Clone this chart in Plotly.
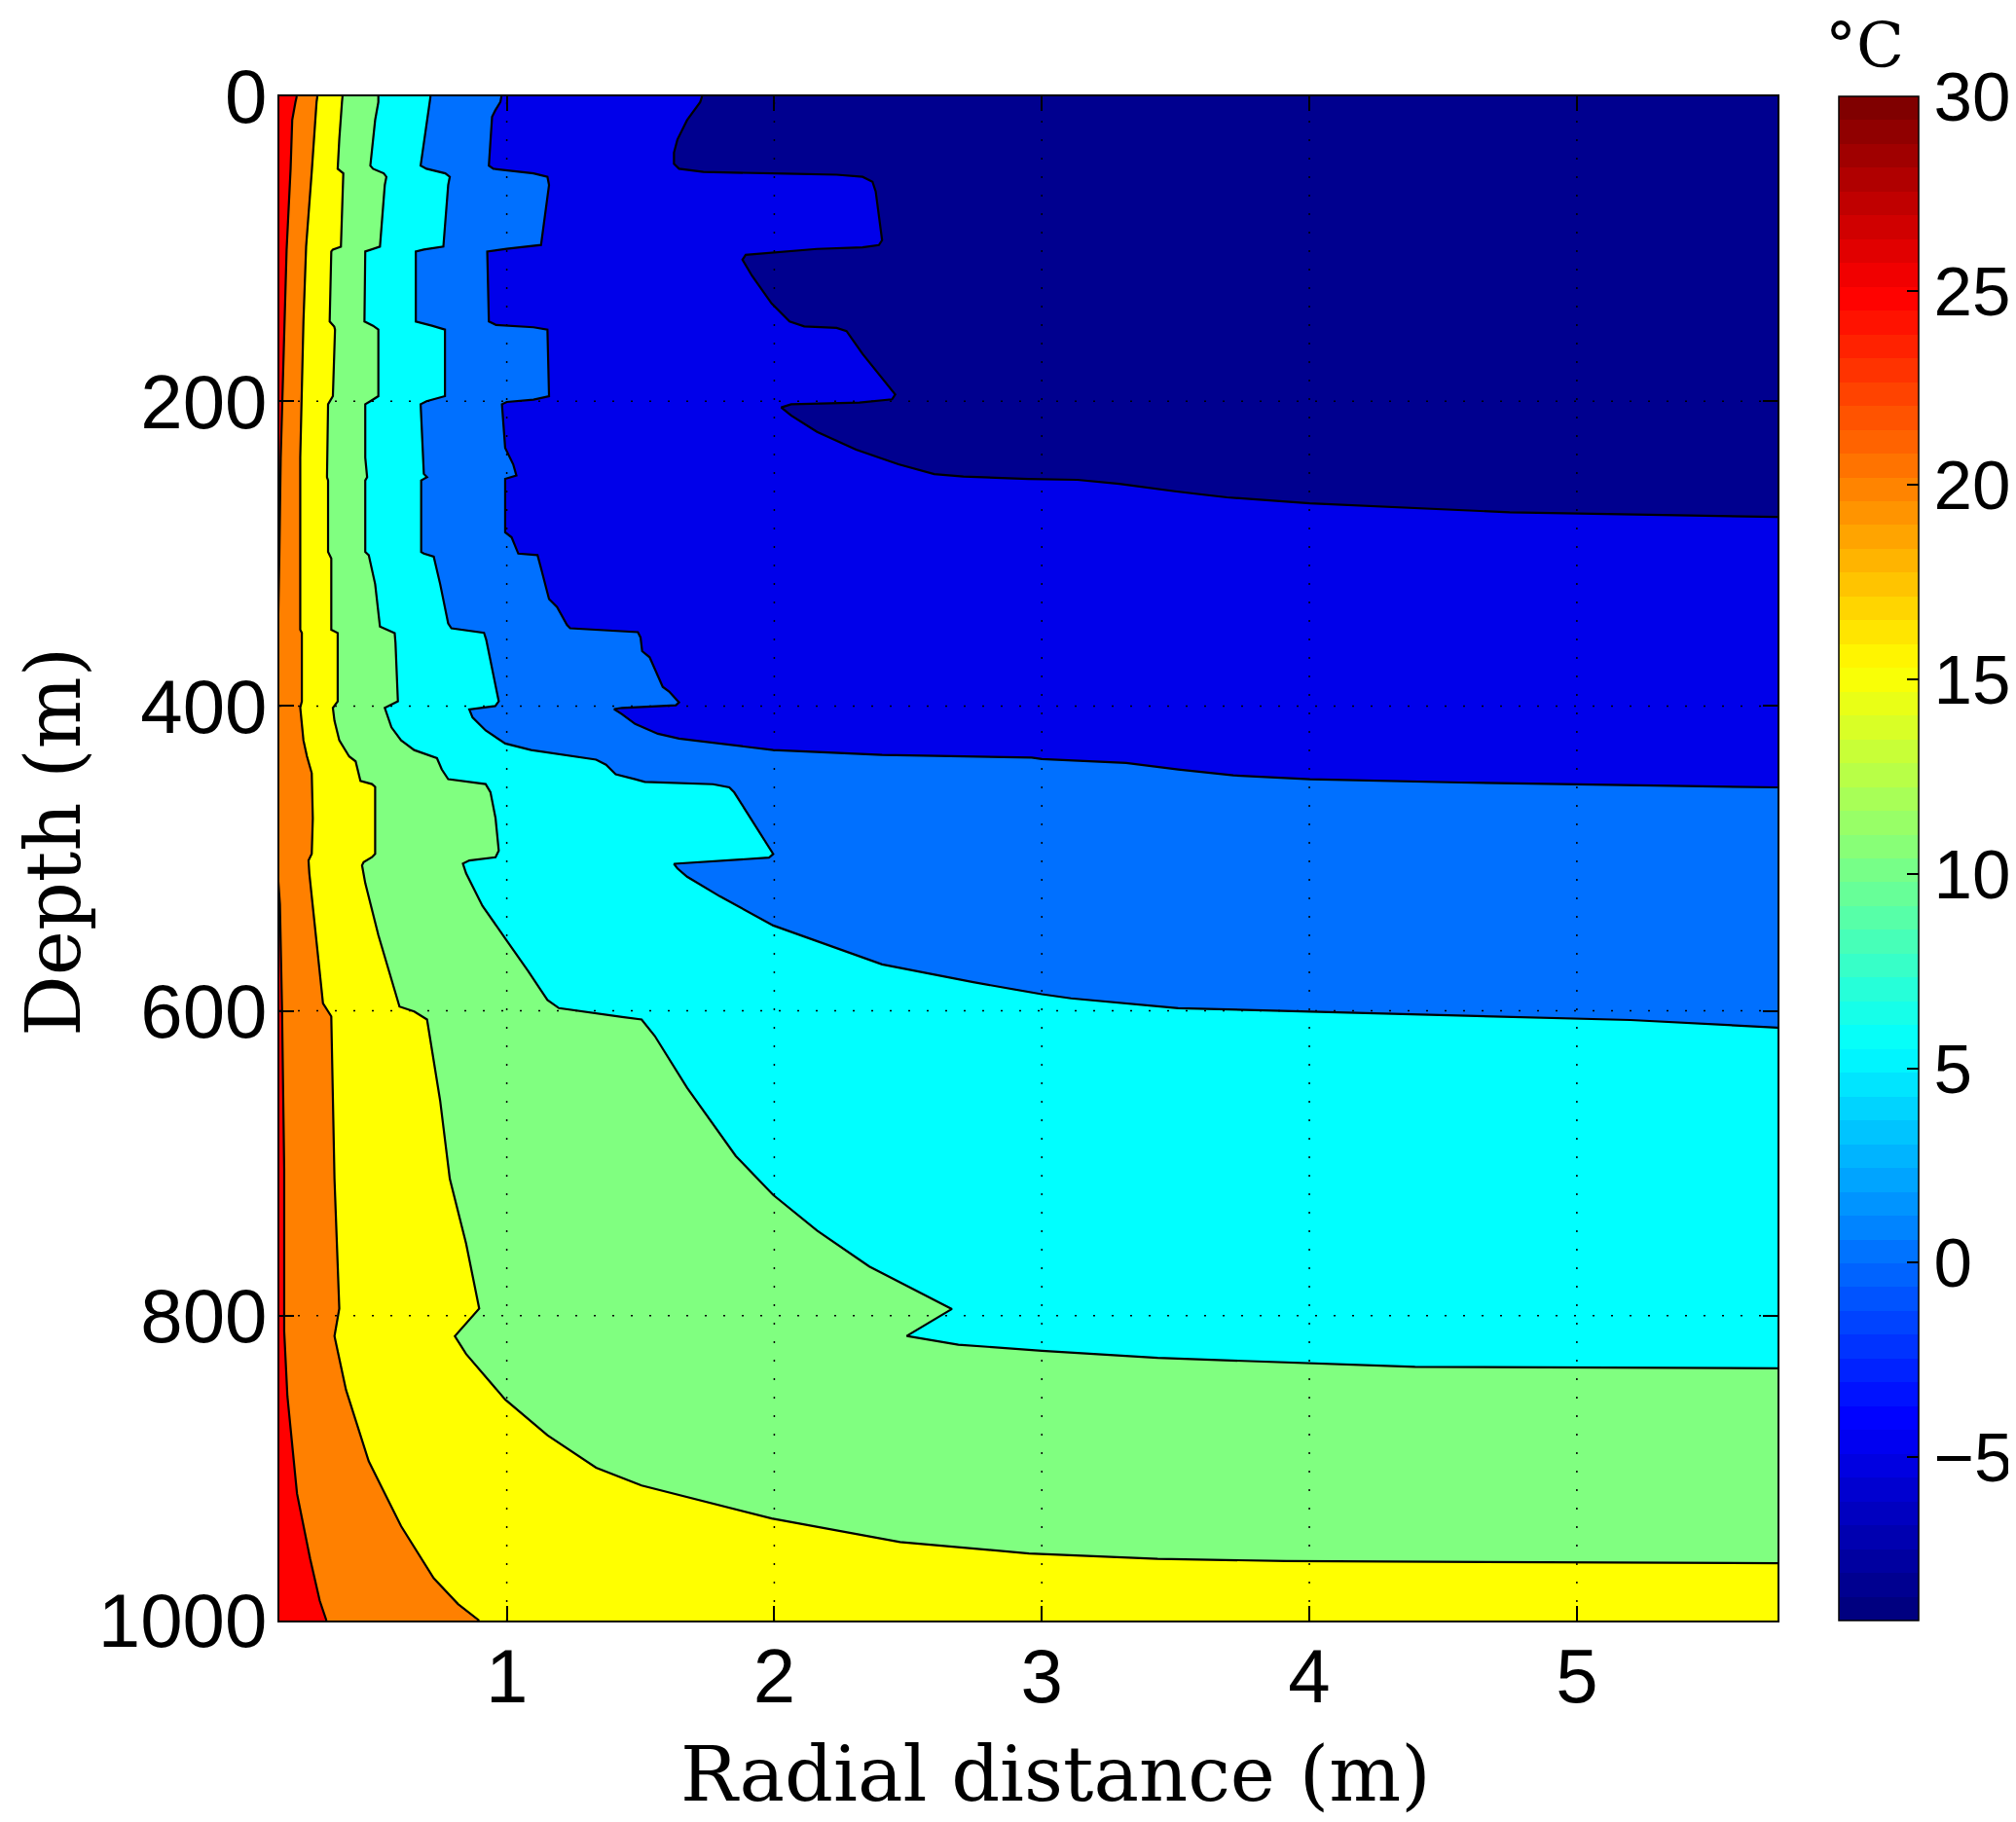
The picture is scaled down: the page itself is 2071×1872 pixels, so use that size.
import numpy as np
import plotly.graph_objects as go

# isotherm levels (deg C); each band is filled with the colour of its lower level
LEVELS = [-5, 0, 5, 10, 15, 20, 25]
BAND_COLOURS = ["#0000EA", "#0070FF", "#00FFFF", "#80FF80", "#FFFF00", "#FF8000", "#FF0000"]
COLDEST_COLOUR = "#00008F"

T_MIN, T_MAX = -9.2, 30.0
X_RANGE = [0.15, 5.75]
X_TICKS = [1, 2, 3, 4, 5]
Y_TICKS = [0, 200, 400, 600, 800, 1000]
CBAR_TICKS = [-5, 0, 5, 10, 15, 20, 25, 30]

# isotherms as (depth m, radial distance m), top to bottom
ISO_M5 = [(0, 1.73), (3.8, 1.723), (15.6, 1.674), (28.3, 1.638), (36.9, 1.625), (44.3, 1.625),
          (47.5, 1.644), (49.6, 1.735), (50.7, 2.039), (51.4, 2.233), (52.8, 2.33), (56, 2.367),
          (62.4, 2.379), (94.4, 2.403), (97.6, 2.391), (99.1, 2.33), (100.1, 2.16), (104, 1.893),
          (107.2, 1.881), (117.8, 1.917), (135.9, 1.99), (147.7, 2.057), (150.9, 2.112),
          (151.9, 2.233), (154, 2.27), (169, 2.33), (195.6, 2.452), (198.8, 2.44), (200.9, 2.318),
          (202, 2.063), (204.1, 2.026), (209.4, 2.063), (220.1, 2.16), (231.8, 2.306),
          (241.4, 2.464), (247.8, 2.598), (249.5, 2.707), (251, 2.95), (251.6, 3.133),
          (254.2, 3.29), (259.1, 3.497), (263.1, 3.692), (267, 4.001), (270.2, 4.384),
          (272.9, 4.749), (276, 5.75)]

ISO_0 = [(0, 0.98), (3.8, 0.976), (9.2, 0.957), (13.4, 0.945), (45.4, 0.933), (47.5, 0.95),
         (50.5, 1.10), (52.8, 1.152), (58.2, 1.158), (92.3, 1.134), (97.5, 1.128), (100, 1.0),
         (101.8, 0.927), (147.7, 0.933), (150, 0.96), (151.5, 1.10), (153, 1.152), (196.7, 1.158),
         (199, 1.1), (200.5, 1.0), (202, 0.982), (230.7, 0.994), (241.4, 1.024), (248.8, 1.036),
         (251, 0.994), (286, 0.994), (289.3, 1.018), (300, 1.043), (301, 1.115), (309.5, 1.128),
         (329.8, 1.158), (335, 1.188), (346.8, 1.225), (349, 1.237), (351.5, 1.49), (355, 1.50),
         (364, 1.506), (368, 1.534), (382, 1.571), (387.4, 1.583), (390.5, 1.607), (397.6, 1.644),
         (399.5, 1.632), (401.2, 1.431), (402, 1.401), (405.4, 1.431), (411.8, 1.48),
         (418.2, 1.565), (421.4, 1.644), (424.6, 1.796), (428.9, 1.996), (432.1, 2.403),
         (433.8, 2.962), (434.8, 3.0), (437.4, 3.315), (441.6, 3.51), (445.5, 3.716),
         (448, 4.002), (450.2, 4.567), (453.4, 5.75)]

ISO_5 = [(0, 0.715), (3.8, 0.712), (36.9, 0.684), (45.4, 0.678), (47.5, 0.70), (50.5, 0.77),
         (52.8, 0.787), (58.2, 0.781), (98.6, 0.763), (100.5, 0.69), (101.8, 0.660),
         (147.7, 0.660), (150.5, 0.72), (153, 0.769), (196.7, 0.769), (200, 0.70), (202, 0.678),
         (230.7, 0.684), (247.7, 0.690), (249.9, 0.702), (252, 0.680), (298.9, 0.680),
         (300, 0.690), (302, 0.727), (320, 0.751), (345.8, 0.781), (349, 0.793), (352, 0.915),
         (356.4, 0.923), (396.9, 0.970), (400, 0.957), (402.2, 0.860), (407.5, 0.872),
         (416, 0.921), (424.6, 0.994), (428.9, 1.091), (432.1, 1.213), (435.2, 1.334),
         (438.5, 1.371), (444.8, 1.407), (448, 1.480), (449.8, 1.516), (451.3, 1.771),
         (453.4, 1.832), (456.6, 1.850), (497.1, 1.996), (499.5, 1.98), (503.5, 1.625),
         (506.6, 1.638), (512, 1.674), (524.8, 1.796), (544, 1.996), (569.5, 2.403),
         (581.2, 2.744), (589.1, 3.0), (591.8, 3.109), (598.2, 3.51), (600.4, 4.002),
         (603.1, 4.567), (606, 5.2), (611, 5.75)]

ISO_10 = [(0, 0.52), (3.8, 0.520), (15.5, 0.508), (45.4, 0.490), (47.5, 0.50), (50.5, 0.54),
          (52.8, 0.550), (58.2, 0.544), (98.6, 0.526), (100.5, 0.49), (101.8, 0.471),
          (147.7, 0.468), (150.5, 0.50), (153, 0.520), (196.7, 0.520), (200, 0.49), (202, 0.471),
          (237, 0.471), (249.9, 0.478), (252, 0.471), (298.9, 0.471), (301, 0.484), (320, 0.508),
          (347.9, 0.526), (352.1, 0.581), (358.5, 0.584), (396.9, 0.593), (401.2, 0.544),
          (414, 0.569), (422.5, 0.605), (428.9, 0.654), (434.2, 0.739), (441.6, 0.757),
          (448, 0.781), (449.1, 0.824), (451.2, 0.921), (456.5, 0.939), (473.6, 0.958),
          (494.9, 0.970), (499.2, 0.958), (501.3, 0.860), (503.4, 0.836), (509.8, 0.848),
          (531.1, 0.909), (552.4, 0.994), (573.7, 1.079), (592.9, 1.152), (598.2, 1.195),
          (604, 1.431), (605.7, 1.504), (616.4, 1.553), (650.5, 1.674), (695.2, 1.856),
          (720.8, 1.996), (744.2, 2.16), (767.7, 2.355), (795.6, 2.664), (813.3, 2.495),
          (819, 2.688), (823, 3.0), (827.7, 3.433), (833.6, 4.395), (834.5, 5.75)]

ISO_15 = [(0, 0.386), (3.8, 0.384), (28, 0.374), (47.5, 0.368), (50.5, 0.389), (98.6, 0.380),
          (100.5, 0.35), (101.8, 0.344), (147.7, 0.338), (151, 0.355), (153, 0.358),
          (196.7, 0.350), (202, 0.332), (237, 0.328), (249.9, 0.328), (252, 0.332),
          (298.9, 0.332), (303.1, 0.344), (350, 0.344), (352.1, 0.368), (396.9, 0.368),
          (401.2, 0.350), (409.7, 0.356), (422.5, 0.374), (433.1, 0.411), (436.3, 0.435),
          (449.1, 0.453), (451.2, 0.496), (453, 0.508), (497, 0.508), (499.2, 0.496),
          (502.4, 0.465), (504.5, 0.459), (516.2, 0.471), (550.3, 0.520), (586.5, 0.581),
          (597.2, 0.599), (600.4, 0.654), (605.7, 0.702), (659, 0.751), (710.1, 0.787),
          (752.7, 0.848), (795.3, 0.897), (813.4, 0.806), (825.1, 0.848), (855, 0.994),
          (878.4, 1.152), (899.7, 1.334), (911.4, 1.504), (933, 1.99), (948.5, 2.47),
          (956, 2.952), (959.5, 3.433), (961, 3.914), (963, 5.75)]

ISO_20 = [(0, 0.292), (3.8, 0.289), (49.6, 0.271), (98.6, 0.250), (147.7, 0.240), (198.8, 0.232),
          (237, 0.228), (350, 0.228), (352, 0.234), (397, 0.234), (401, 0.228), (422.5, 0.240),
          (433, 0.253), (444, 0.271), (473.6, 0.275), (497, 0.271), (501.3, 0.259),
          (509.8, 0.262), (595, 0.313), (603.6, 0.344), (710.1, 0.356), (795.3, 0.374),
          (813.4, 0.356), (848.6, 0.399), (895.5, 0.484), (938.1, 0.605), (972.2, 0.727),
          (989.2, 0.818), (1000, 0.897)]

ISO_25 = [(0, 0.215), (3.8, 0.210), (15.5, 0.198), (47.5, 0.192), (100.8, 0.177), (150, 0.170),
          (198.8, 0.162), (237, 0.155), (300, 0.150), (350, 0.146), (400, 0.14), (500, 0.14),
          (530, 0.152), (600, 0.160), (660, 0.166), (703.7, 0.168), (810.2, 0.168),
          (852.8, 0.180), (916.8, 0.216), (959.4, 0.265), (987.1, 0.301), (1000, 0.326)]

ISOTHERMS = [ISO_M5, ISO_0, ISO_5, ISO_10, ISO_15, ISO_20, ISO_25]

FONT_TICK = "Liberation Sans, Arial, sans-serif"
FONT_LABEL = "DejaVu Serif, serif"


def jet(t):
    r = np.clip(1.5 - abs(4 * t - 3), 0, 1)
    g = np.clip(1.5 - abs(4 * t - 2), 0, 1)
    b = np.clip(1.5 - abs(4 * t - 1), 0, 1)
    return f"rgb({int(round(r * 255))},{int(round(g * 255))},{int(round(b * 255))})"


# 64 step jet, like the matlab colorbar
jet_steps = []
for i in range(64):
    c = jet(i / 63)
    jet_steps.append([i / 64, c])
    jet_steps.append([(i + 1) / 64, c])

fig = go.Figure()

x_left, x_right, d_bottom = -0.5, 6.5, 1000

# warm side of each isotherm, painted from cold to warm
for iso, colour in zip(ISOTHERMS, BAND_COLOURS):
    depth = [p[0] for p in iso]
    rad = [p[1] for p in iso]
    xs = [x_left] + rad
    ys = [0] + depth
    if depth[-1] < d_bottom:
        xs += [x_right, x_right]
        ys += [depth[-1], d_bottom]
    xs += [x_left]
    ys += [d_bottom]
    fig.add_trace(go.Scatter(
        x=xs, y=ys, mode="lines", fill="toself", fillcolor=colour,
        line=dict(width=0), hoverinfo="skip", showlegend=False,
    ))

# isotherm lines on top
for iso, lev in zip(ISOTHERMS, LEVELS):
    depth = [p[0] for p in iso]
    rad = [p[1] for p in iso]
    if depth[-1] < d_bottom:
        rad = rad + [x_right]
        depth = depth + [depth[-1]]
    fig.add_trace(go.Scatter(
        x=rad, y=depth, mode="lines", line=dict(color="black", width=2.2),
        name=f"{lev} °C", hoverinfo="name", showlegend=False,
    ))

# colorbar only
fig.add_trace(go.Scatter(
    x=[None], y=[None], mode="markers", showlegend=False, hoverinfo="skip",
    marker=dict(
        color=[T_MIN], cmin=T_MIN, cmax=T_MAX, colorscale=jet_steps, showscale=True,
        colorbar=dict(
            x=1.041, xanchor="left", xpad=0, y=0.5, yanchor="middle", ypad=0,
            len=1566, lenmode="pixels", thickness=82, thicknessmode="pixels",
            outlinewidth=1.5, outlinecolor="black",
            tickvals=CBAR_TICKS, ticks="inside", ticklen=12, tickwidth=1.5, tickcolor="black",
            tickfont=dict(family=FONT_TICK, size=71, color="black"),
        ),
    ),
))

# dotted matlab-style grid, drawn over the fills
for xv in X_TICKS:
    fig.add_vline(x=xv, line=dict(color="black", width=1.5, dash="2px,17px"), layer="above")
for yv in Y_TICKS[1:-1]:
    fig.add_hline(y=yv, line=dict(color="black", width=1.5, dash="2px,17px"), layer="above")

axis_common = dict(
    showline=True, linecolor="black", linewidth=2, mirror="ticks",
    ticks="inside", ticklen=15, tickwidth=2, tickcolor="black",
    showgrid=False, zeroline=False,
    tickfont=dict(family=FONT_TICK, size=78, color="black"),
)
fig.update_xaxes(range=X_RANGE, tickvals=X_TICKS, ticklabelstandoff=-12, **axis_common)
fig.update_yaxes(range=[1000, 0], tickvals=Y_TICKS, ticklabelstandoff=-5, **axis_common)

# the page body adds an 8 px offset, so the figure is 8 px smaller on each side
fig.update_layout(
    width=2063, height=1864,
    margin=dict(l=279, r=245, t=91, b=207, autoexpand=False),
    paper_bgcolor="white", plot_bgcolor=COLDEST_COLOUR,
    annotations=[
        dict(text="Radial distance (m)", xref="paper", yref="paper", x=0.518, y=-0.1309,
             xanchor="center", yanchor="bottom", showarrow=False,
             font=dict(family=FONT_LABEL, size=78, color="black")),
        dict(text="Depth (m)", xref="paper", yref="paper", x=-0.1813, y=0.511,
             xanchor="left", yanchor="middle", textangle=-90, showarrow=False,
             font=dict(family=FONT_LABEL, size=78, color="black")),
        dict(text="°C", xref="paper", yref="paper", x=1.058, y=1.058,
             xanchor="center", yanchor="top", showarrow=False,
             font=dict(family=FONT_LABEL, size=64, color="black")),
    ],
)

fig.write_html("out.html")
